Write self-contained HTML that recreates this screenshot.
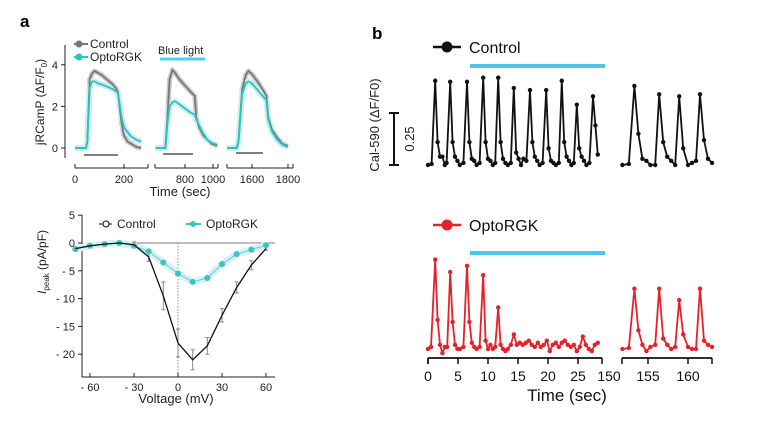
<!DOCTYPE html>
<html><head><meta charset="utf-8"><style>
body{margin:0;background:#fff;width:767px;height:431px;overflow:hidden}
svg{font-family:"Liberation Sans",Arial,sans-serif}
</style></head><body>
<svg id="fig" width="767" height="431">
<text x="20" y="27" font-size="17" font-weight="bold">a</text>
<text x="372" y="39" font-size="17" font-weight="bold">b</text>
<g id="ta"></g>
<g id="iv"></g>
<g id="bb"></g>
</svg>
<script>
// ---- Panel a top data ----
const s1Times=[0,45,50,60,70,80,95,110,130,150,165,175,180,190,200,215,230,250,270];
const s1Ctrl=[0,0,0.3,3.3,3.6,3.7,3.6,3.5,3.3,3.1,2.9,2.7,2.2,1.2,0.6,0.3,0.2,0.05,0];
const s1Opto=[0,0,0.3,2.9,3.2,3.2,3.1,3.05,2.95,2.85,2.75,2.65,2.3,1.5,1.0,0.75,0.55,0.4,0.3];
const s2Times=[590,660,675,690,710,730,760,800,840,870,875,880,900,930,960,990,1030];
const s2Ctrl=[0,0,1.5,3.3,3.75,3.6,3.3,3.0,2.7,2.5,2.0,1.5,1.0,0.6,0.4,0.2,0.1];
const s2Opto=[0,0,1.2,2.0,2.2,2.25,2.1,1.9,1.7,1.6,1.5,1.4,1.1,0.7,0.4,0.25,0.15];
const s3Times=[1461,1515,1525,1545,1565,1580,1600,1630,1660,1680,1690,1710,1740,1770,1800];
const s3Ctrl=[0,0,0.3,2.8,3.5,3.7,3.55,3.2,2.8,2.5,1.5,0.9,0.5,0.2,0.1];
const s3Opto=[0,0,0.3,2.6,3.1,3.2,3.1,2.8,2.5,2.3,1.4,0.8,0.4,0.15,0.05];
const topYTicks=[0,2,4];
// ---- Panel a bottom data ----
const volts=[-70,-60,-50,-40,-30,-20,-10,0,10,20,30,40,50,60];
const ivCtrl=[-1,-0.5,-0.2,0,-0.3,-2.5,-9.5,-18,-21,-18.5,-13,-8,-4,-1];
const ivCtrlErr=[0.3,0.3,0.3,0.3,0.5,0.8,2.5,2.5,1.8,1.5,1.2,1,0.8,0.3];
const ivOpto=[-1.1,-0.5,-0.2,0,-0.5,-1.5,-3.5,-5.5,-7,-6.3,-3.8,-2,-1.2,-0.4];
const ivXTicks=[-60,-30,0,30,60];
const ivYTicks=[5,0,-5,-10,-15,-20];
// ---- Panel b data ----
const bCtrlT1=[0,0.6,1.2,1.6,2.0,2.4,2.8,3.1,3.7,4.1,4.5,4.9,5.3,5.9,6.5,6.9,7.3,7.7,8.1,8.6,9.2,9.6,10.0,10.4,10.8,11.2,11.7,12.1,12.5,12.9,13.3,13.8,14.3,14.7,15.1,15.5,15.9,16.4,17.0,17.4,17.8,18.2,18.6,19.1,19.7,20.1,20.5,20.9,21.3,21.8,22.3,22.7,23.1,23.5,23.9,24.3,24.8,25.2,25.6,26.0,26.4,26.9,27.5,27.9,28.3];
const bCtrlV1=[0,0.005,0.405,0.11,0.04,0.04,0.0,0.01,0.40,0.11,0.04,0.02,0.0,0.01,0.40,0.11,0.03,0.02,0.0,0.01,0.42,0.11,0.03,0.02,0.0,0.01,0.42,0.11,0.03,0.01,0.0,0.01,0.37,0.06,0.03,0.0,0.03,0.02,0.36,0.11,0.04,0.02,0.0,0.01,0.36,0.08,0.02,0.01,0.0,0.01,0.405,0.11,0.04,0.02,0.0,0.01,0.29,0.08,0.04,0.02,0.0,0.01,0.33,0.19,0.05];
const bCtrlT2=[151.8,152.6,153.3,153.8,154.3,154.8,155.3,155.9,156.4,156.9,157.4,157.9,158.4,158.9,159.4,160.0,160.5,161.0,161.5,162.0,162.5,163.0];
const bCtrlV2=[0,0.005,0.38,0.15,0.03,0.02,0.0,0.0,0.34,0.11,0.04,0.02,0.0,0.33,0.08,0.0,0.01,0.02,0.34,0.12,0.03,0.01];
const bOptoT1=[0,0.5,1.2,1.6,2.0,2.4,2.8,3.2,3.7,4.1,4.5,4.9,5.3,5.9,6.5,6.9,7.3,7.7,8.1,8.6,9.2,9.6,10.0,10.4,10.8,11.2,11.7,12.1,12.5,12.9,13.3,13.8,14.3,14.8,15.3,15.8,16.3,16.8,17.3,17.8,18.3,18.8,19.3,19.8,20.3,20.8,21.3,21.8,22.3,22.8,23.3,23.8,24.3,24.8,25.3,25.8,26.3,26.8,27.3,27.8,28.3];
const bOptoV1=[0,0.01,0.43,0.14,0.02,-0.02,0.01,0.01,0.37,0.13,0.02,0.0,0.0,0.01,0.40,0.13,0.03,0.01,0.0,0.01,0.355,0.04,0.0,0.02,0.0,0.01,0.2,0.02,0.0,-0.01,0.0,0.02,0.07,0.02,0.03,0.02,0.03,0.04,0.02,0.01,0.03,0.01,0.02,0.04,-0.01,0.02,0.03,0.01,0.03,0.04,0.02,0.01,0.02,-0.01,0.01,0.06,0.02,0.0,-0.01,0.02,0.03];
const bOptoT2=[151.8,152.6,153.3,153.8,154.3,154.8,155.3,155.9,156.4,156.9,157.4,157.9,158.4,158.9,159.4,160.0,160.5,161.0,161.5,162.0,162.5,163.0];
const bOptoV2=[0,0.005,0.29,0.09,0.02,-0.01,0.01,0.02,0.29,0.05,0.02,0.0,0.01,0.235,0.07,0.01,0.0,0.0,0.29,0.04,0.02,0.01];
const bXTicks1=[0,5,10,15,20,25];
const bXTicks2=[155,160];

const NS="http://www.w3.org/2000/svg";
function mk(parent,tag,attrs,text){const e=document.createElementNS(NS,tag);for(const k in attrs)e.setAttribute(k,attrs[k]);if(text!==undefined)e.textContent=text;parent.appendChild(e);return e;}
function pts(xs,ys,fx,fy){return xs.map((x,i)=>fx(x).toFixed(1)+","+fy(ys[i]).toFixed(1)).join(" ");}

// ===== Panel a top =====
const ta=document.getElementById('ta');
const tY=v=>148-v*20.8;
const segs=[
 {t:s1Times,c:s1Ctrl,o:s1Opto,x0:75,t0:0,k:0.245,a0:75,a1:148,ticks:[0,200],labels:["0","200"],bar:[84,118]},
 {t:s2Times,c:s2Ctrl,o:s2Opto,x0:185,t0:800,k:0.14,a0:155,a1:218,ticks:[800,1000],labels:["800","1000"],bar:[163,193]},
 {t:s3Times,c:s3Ctrl,o:s3Opto,x0:252,t0:1600,k:0.18,a0:227,a1:293,ticks:[1600,1800],labels:["1600","1800"],bar:[236,263]}];
let l=mk(ta,'line',{x1:65,y1:45,x2:65,y2:158,stroke:'#222','stroke-width':1});

topYTicks.forEach(v=>{
 let t=mk(ta,'line',{x1:61,y1:tY(v),x2:65,y2:tY(v),stroke:'#222'});
 
 let tx=mk(ta,'text',{x:58,y:tY(v)+4,'font-size':11,'text-anchor':'end',fill:'#222'},String(v));
 
});
segs.forEach((s,i)=>{
 const fx=t=>s.x0+(t-s.t0)*s.k;
 let ax=mk(ta,'line',{x1:s.a0,y1:168,x2:s.a1,y2:168,stroke:'#222'});
 
 [s.a0,s.a1].forEach(x=>{let e=mk(ta,'line',{x1:x,y1:164,x2:x,y2:168,stroke:'#222'});});
 s.ticks.forEach((v,j)=>{
  let e=mk(ta,'line',{x1:fx(v),y1:164,x2:fx(v),y2:168,stroke:'#222'});
  
  let tx=mk(ta,'text',{x:fx(v),y:183,'font-size':11,'text-anchor':'middle',fill:'#222'},s.labels[j]);
  
 });
 let b=mk(ta,'line',{x1:s.bar[0],y1:155-i,x2:s.bar[1],y2:155-i,stroke:'#333','stroke-width':1.3});
 
 let cb=mk(ta,'polyline',{points:pts(s.t,s.c,fx,tY),fill:'none',stroke:'#ccc','stroke-width':5,'stroke-linejoin':'round'});
 
 let ob=mk(ta,'polyline',{points:pts(s.t,s.o,fx,tY),fill:'none',stroke:'#c8eeee','stroke-width':6,'stroke-linejoin':'round'});
 
 let c=mk(ta,'polyline',{points:pts(s.t,s.c,fx,tY),fill:'none',stroke:'#777','stroke-width':1.8});
 
 let o=mk(ta,'polyline',{points:pts(s.t,s.o,fx,tY),fill:'none',stroke:'#2fc0c0','stroke-width':1.8});
 
});
[['Control','#777',44],['OptoRGK','#2fc0c0',57]].forEach(([n,c,y])=>{
 let e=mk(ta,'line',{x1:74,y1:y,x2:88,y2:y,stroke:c,'stroke-width':2});
 let d=mk(ta,'circle',{cx:79,cy:y,r:3.5,fill:c});
 let t=mk(ta,'text',{x:90,y:y+4,'font-size':12,fill:'#222'},n);
});
let bl=mk(ta,'line',{x1:160,y1:59,x2:205,y2:59,stroke:'#4cd0ec','stroke-width':3});

let blt=mk(ta,'text',{x:158,y:54,'font-size':11,fill:'#222'},'Blue light');

let txl=mk(ta,'text',{x:180,y:196,'font-size':13,'text-anchor':'middle',fill:'#222'},'Time (sec)');

let tyl=mk(ta,'text',{transform:'translate(44,102) rotate(-90)','font-size':12,'text-anchor':'middle',fill:'#222'},'jRCamP (ΔF/F');

mk(tyl,'tspan',{'font-size':8,dy:3},'0');mk(tyl,'tspan',{dy:-3},')');

// ===== Panel a bottom =====
const iv=document.getElementById('iv');
const vX=v=>178+v*1.4667, iY=v=>243-v*5.56;
let ya=mk(iv,'line',{x1:82,y1:215,x2:82,y2:377,stroke:'#222'});
let xa=mk(iv,'line',{x1:82,y1:377,x2:275,y2:377,stroke:'#222'});
let zl=mk(iv,'line',{x1:88,y1:243,x2:275,y2:243,stroke:'#555','stroke-width':0.8});
let vz=mk(iv,'line',{x1:178,y1:243,x2:178,y2:377,stroke:'#777','stroke-width':0.8,'stroke-dasharray':'1.5,1.5'});
ivYTicks.forEach(v=>{
 let t=mk(iv,'line',{x1:78,y1:iY(v),x2:82,y2:iY(v),stroke:'#222'});
 let tx=mk(iv,'text',{x:75,y:iY(v)+4,'font-size':11,'text-anchor':'end',fill:'#222'},v<0?'- '+(-v):String(v));
 
});
ivXTicks.forEach(v=>{
 let t=mk(iv,'line',{x1:vX(v),y1:373,x2:vX(v),y2:377,stroke:'#222'});
 let tx=mk(iv,'text',{x:vX(v),y:391,'font-size':11,'text-anchor':'middle',fill:'#222'},v<0?'- '+(-v):String(v));
 
});
let ob2=mk(iv,'polyline',{points:pts(volts,ivOpto,vX,iY),fill:'none',stroke:'#d6f1f3','stroke-width':7});

let ol=mk(iv,'polyline',{points:pts(volts,ivOpto,vX,iY),fill:'none',stroke:'#6cc','stroke-width':1});

volts.forEach((v,i)=>{
 let e=mk(iv,'path',{d:`M${vX(v)-2},${iY(ivCtrl[i]-ivCtrlErr[i])}h4M${vX(v)},${iY(ivCtrl[i]-ivCtrlErr[i])}V${iY(ivCtrl[i]+ivCtrlErr[i])}M${vX(v)-2},${iY(ivCtrl[i]+ivCtrlErr[i])}h4`,stroke:'#888',fill:'none','stroke-width':1});
 
 let c=mk(iv,'circle',{cx:vX(v),cy:iY(ivOpto[i]),r:3,fill:'#3cc4c4'});
 
});
let cl=mk(iv,'polyline',{points:pts(volts,ivCtrl,vX,iY),fill:'none',stroke:'#111','stroke-width':1.3});

let lg1=mk(iv,'line',{x1:99,y1:224,x2:112,y2:224,stroke:'#111'});
let lm1=mk(iv,'circle',{cx:106,cy:224,r:3,fill:'#fff',stroke:'#111'});
let lt1=mk(iv,'text',{x:117,y:228,'font-size':12,fill:'#222'},'Control');
let lg2=mk(iv,'line',{x1:186,y1:224,x2:201,y2:224,stroke:'#3cc4c4','stroke-width':2});
let lm2=mk(iv,'circle',{cx:193,cy:224,r:3,fill:'#3cc4c4'});
let lt2=mk(iv,'text',{x:206,y:228,'font-size':12,fill:'#222'},'OptoRGK');
let ivx=mk(iv,'text',{x:176,y:403,'font-size':13,'text-anchor':'middle',fill:'#222'},'Voltage (mV)');

let ivy=mk(iv,'text',{transform:'translate(46,262) rotate(-90)','font-size':12,'text-anchor':'middle',fill:'#222'});

mk(ivy,'tspan',{'font-style':'italic'},'I');mk(ivy,'tspan',{'font-size':8,dy:3},'peak');mk(ivy,'tspan',{dy:-3},' (pA/pF)');

// ===== Panel b =====
const bb=document.getElementById('bb');
const bx1=t=>428+t*6.0, bx2=t=>648+(t-155)*8.0;
const cY=v=>165-v*208, rY=v=>349-v*208;
function trace(T,V,fx,fy,col,name){
 let p=mk(bb,'polyline',{points:pts(T,V,fx,fy),fill:'none',stroke:col,'stroke-width':1.8,'stroke-linejoin':'round'});
 
 T.forEach((t,i)=>{let c=mk(bb,'circle',{cx:fx(t),cy:fy(V[i]),r:2.2,fill:col});});
}
trace(bCtrlT1,bCtrlV1,bx1,cY,'#111','control-trace-baseline');
trace(bCtrlT2,bCtrlV2,bx2,cY,'#111','control-trace-recovery');
trace(bOptoT1,bOptoV1,bx1,rY,'#e8202a','opto-trace-baseline');
trace(bOptoT2,bOptoV2,bx2,rY,'#e8202a','opto-trace-recovery');
[[66],[253]].forEach(([y])=>{let e=mk(bb,'line',{x1:470,y1:y,x2:605,y2:y,stroke:'#4cc6ea','stroke-width':4});});
let sb=mk(bb,'path',{d:'M389,113h10M394,113V165M389,165h10',stroke:'#111','stroke-width':2,fill:'none'});

let sbl=mk(bb,'text',{transform:'translate(414,139) rotate(-90)','font-size':13,'text-anchor':'middle',fill:'#222'},'0.25');

let byl=mk(bb,'text',{transform:'translate(379,125) rotate(-90)','font-size':13,'text-anchor':'middle',fill:'#222'},'Cal-590 (ΔF/F0)');

[['Control','#111',47],['OptoRGK','#e8202a',225]].forEach(([n,c,y])=>{
 let e=mk(bb,'line',{x1:433,y1:y,x2:461,y2:y,stroke:c,'stroke-width':2.5});
 let d=mk(bb,'circle',{cx:447,cy:y,r:5.5,fill:c});
 let t=mk(bb,'text',{x:469,y:y+6,'font-size':16,fill:'#111'},n);
});
let a1=mk(bb,'line',{x1:428,y1:358,x2:602,y2:358,stroke:'#111','stroke-width':1.8});
let a2=mk(bb,'line',{x1:622,y1:358,x2:712,y2:358,stroke:'#111','stroke-width':1.8});
[428,602,622,712].forEach(x=>{let e=mk(bb,'line',{x1:x,y1:358,x2:x,y2:364,stroke:'#111','stroke-width':1.5});});
bXTicks1.forEach(v=>{
 let e=mk(bb,'line',{x1:bx1(v),y1:358,x2:bx1(v),y2:364,stroke:'#111','stroke-width':1.5});
 let t=mk(bb,'text',{x:bx1(v),y:381,'font-size':14,'text-anchor':'middle',fill:'#111'},String(v));
});
bXTicks2.forEach(v=>{
 let e=mk(bb,'line',{x1:bx2(v),y1:358,x2:bx2(v),y2:364,stroke:'#111','stroke-width':1.5});
 let t=mk(bb,'text',{x:bx2(v),y:381,'font-size':14,'text-anchor':'middle',fill:'#111'},String(v));
});
let t150=mk(bb,'text',{x:609,y:381,'font-size':14,'text-anchor':'middle',fill:'#111'},'150');

let bxt=mk(bb,'text',{x:567,y:401,'font-size':17,'text-anchor':'middle',fill:'#111'},'Time (sec)');

</script>
</body></html>
